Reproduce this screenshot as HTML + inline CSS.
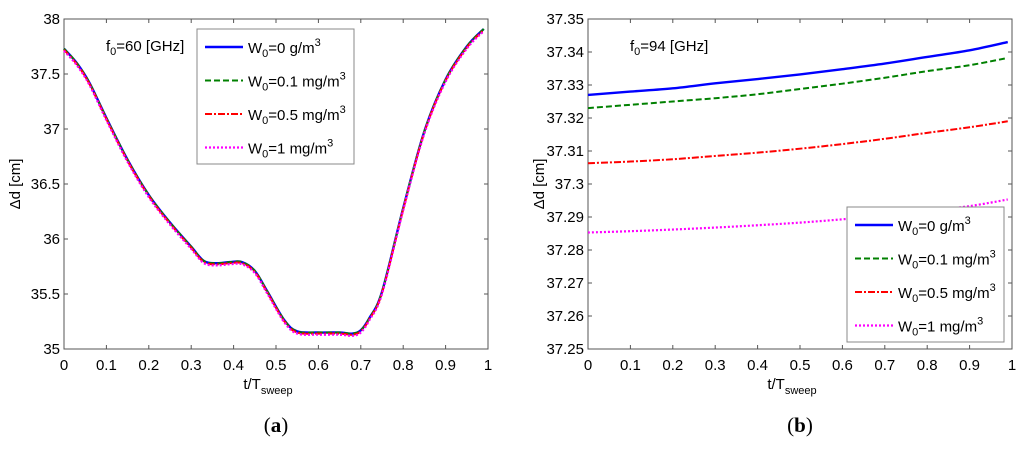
<!DOCTYPE html>
<html><head><meta charset="utf-8"><style>
body{margin:0;background:#fff;width:1024px;height:445px;overflow:hidden}
svg text{font-family:"Liberation Sans",Arial,sans-serif;fill:#000}
</style></head><body>
<svg id="s" width="1024" height="445" xmlns="http://www.w3.org/2000/svg"></svg>
<script>
const xTicks=[0,0.1,0.2,0.3,0.4,0.5,0.6,0.7,0.8,0.9,1];
const xTickLabels=["0","0.1","0.2","0.3","0.4","0.5","0.6","0.7","0.8","0.9","1"];
const yTicksA=[35,35.5,36,36.5,37,37.5,38];
const yTickLabelsA=["35","35.5","36","36.5","37","37.5","38"];
const yTicksB=[37.25,37.26,37.27,37.28,37.29,37.3,37.31,37.32,37.33,37.34,37.35];
const yTickLabelsB=["37.25","37.26","37.27","37.28","37.29","37.3","37.31","37.32","37.33","37.34","37.35"];
const tA=[0,0.03,0.06,0.1,0.15,0.2,0.25,0.3,0.33,0.36,0.39,0.42,0.45,0.48,0.52,0.55,0.6,0.65,0.68,0.7,0.72,0.75,0.8,0.85,0.9,0.95,0.99];
const aBlue   =[37.73,37.6,37.42,37.1,36.72,36.4,36.15,35.93,35.8,35.78,35.79,35.79,35.71,35.52,35.26,35.16,35.15,35.15,35.14,35.17,35.28,35.52,36.28,36.98,37.45,37.75,37.91];
const aGreen  =[37.73,37.6,37.42,37.1,36.72,36.4,36.15,35.93,35.8,35.78,35.79,35.79,35.71,35.52,35.26,35.16,35.15,35.15,35.14,35.17,35.28,35.52,36.28,36.98,37.45,37.75,37.91];
const aRed    =[37.72,37.59,37.41,37.09,36.71,36.39,36.14,35.92,35.79,35.77,35.78,35.78,35.7,35.51,35.25,35.15,35.14,35.14,35.13,35.16,35.27,35.51,36.27,36.97,37.44,37.74,37.9];
const aMagenta=[37.71,37.58,37.4,37.08,36.7,36.38,36.13,35.91,35.78,35.76,35.77,35.77,35.69,35.5,35.24,35.14,35.13,35.13,35.12,35.15,35.26,35.5,36.26,36.96,37.43,37.73,37.89];
const tB=[0,0.1,0.2,0.3,0.4,0.5,0.6,0.7,0.8,0.9,0.99];
const bBlue   =[37.327,37.328,37.329,37.3305,37.3318,37.3332,37.3348,37.3365,37.3385,37.3405,37.343];
const bGreen  =[37.323,37.324,37.325,37.326,37.3272,37.3288,37.3304,37.3322,37.3342,37.336,37.3382];
const bRed    =[37.3063,37.3068,37.3075,37.3085,37.3095,37.3107,37.3121,37.3137,37.3155,37.3172,37.319];
const bMagenta=[37.2853,37.2857,37.2862,37.2868,37.2875,37.2883,37.2893,37.2905,37.2918,37.2933,37.2953];
const styles=[{c:"#0000ff",d:"",w:2.4,n:"blue-0"},{c:"#008000",d:"6,3",w:2,n:"green-01"},{c:"#ff0000",d:"7,2,2,2",w:2,n:"red-05"},{c:"#ff00ff",d:"2,2",w:2.2,n:"magenta-1"}];
const labels=[["0 g/m"],["0.1 mg/m"],["0.5 mg/m"],["1 mg/m"]];
const NS="http://www.w3.org/2000/svg",S=document.getElementById('s');
function el(t,a,p){const e=document.createElementNS(NS,t);for(const k in a)e.setAttribute(k,a[k]);(p||S).appendChild(e);return e;}
function smooth(pts){let d='M'+pts[0][0]+','+pts[0][1];
 for(let i=0;i<pts.length-1;i++){const p0=pts[i-1]||pts[i],p1=pts[i],p2=pts[i+1],p3=pts[i+2]||p2;
  const c1=[p1[0]+(p2[0]-p0[0])/6,p1[1]+(p2[1]-p0[1])/6],c2=[p2[0]-(p3[0]-p1[0])/6,p2[1]-(p3[1]-p1[1])/6];
  d+=` C${c1[0]},${c1[1]} ${c2[0]},${c2[1]} ${p2[0]},${p2[1]}`;}
 return d;}
function chart(o){
 const g=el('g',{});
 
 
 const X=v=>o.x0+v*(o.x1-o.x0), Y=v=>o.y1-(v-o.ymin)/(o.ymax-o.ymin)*(o.y1-o.y0);
 const bg=el('rect',{x:o.x0,y:o.y0,width:o.x1-o.x0,height:o.y1-o.y0,fill:'#fff',stroke:'#555','stroke-width':1},g);
 
 
 xTicks.forEach((v,i)=>{const x=X(v);el('line',{x1:x,x2:x,y1:o.y1,y2:o.y1-4,stroke:'#555'},g);el('line',{x1:x,x2:x,y1:o.y0,y2:o.y0+4,stroke:'#555'},g);
  const t=el('text',{x:x,y:o.y1+21,'text-anchor':'middle','font-size':15},g);t.textContent=xTickLabels[i];
  
  });
 o.yt.forEach((v,i)=>{const y=Y(v);el('line',{x1:o.x0,x2:o.x0+4,y1:y,y2:y,stroke:'#555'},g);el('line',{x1:o.x1,x2:o.x1-4,y1:y,y2:y,stroke:'#555'},g);
  const t=el('text',{x:o.x0-4,y:y+5,'text-anchor':'end','font-size':15},g);t.textContent=o.yl[i];
  
  });
 o.series.forEach((s,i)=>{const st=styles[i];
  const p=el('path',{d:smooth(o.t.map((v,j)=>[X(v),Y(s[j])])),fill:'none',stroke:st.c,'stroke-width':st.w,'stroke-dasharray':st.d},g);
  
  });
 const xt=el('text',{x:(o.x0+o.x1)/2-8,y:o.y1+40,'text-anchor':'middle','font-size':15},g);
 xt.innerHTML='t/T<tspan dy="5" font-size="11">sweep</tspan>';
 
 
 const yt=el('text',{x:0,y:0,'text-anchor':'middle','font-size':15,transform:`translate(${o.x0-44},${(o.y0+o.y1)/2}) rotate(-90)`},g);
 yt.textContent='Δd [cm]';
 
 
 const ft=el('text',{x:o.fx,y:o.y0+32,'font-size':15},g);
 ft.innerHTML='f<tspan dy="4" font-size="11">0</tspan><tspan dy="-4">='+o.f+' [GHz]</tspan>';
 
 
 const lg=el('g',{},g);
 
 
 el('rect',{x:o.lx,y:o.ly,width:157,height:135,fill:'#fff',stroke:'#888'},lg);
 styles.forEach((st,i)=>{const yy=o.ly+18+i*33.5;
  el('line',{x1:o.lx+8,x2:o.lx+46,y1:yy,y2:yy,stroke:st.c,'stroke-width':st.w,'stroke-dasharray':st.d},lg);
  const t=el('text',{x:o.lx+51,y:yy+6,'font-size':15},lg);
  t.innerHTML='W<tspan dy="4" font-size="11">0</tspan><tspan dy="-4">='+labels[i][0]+'</tspan><tspan dy="-7" font-size="11">3</tspan>';
  
  });
 const cap=el('text',{x:(o.x0+o.x1)/2,y:432,'text-anchor':'middle','font-size':21,style:'font-family:"Liberation Serif",serif'},g);
 cap.innerHTML='(<tspan font-weight="bold">'+o.cap+'</tspan>)';
 
 
}
chart({name:'chart-a',x0:64,x1:488,y0:19,y1:349,ymin:35,ymax:38,yt:yTicksA,yl:yTickLabelsA,t:tA,series:[aBlue,aGreen,aRed,aMagenta],fx:106,f:'60',lx:197,ly:29,cap:'a'});
chart({name:'chart-b',x0:588,x1:1012,y0:19,y1:349,ymin:37.25,ymax:37.35,yt:yTicksB,yl:yTickLabelsB,t:tB,series:[bBlue,bGreen,bRed,bMagenta],fx:630,f:'94',lx:847,ly:207,cap:'b'});
</script>
</body></html>
